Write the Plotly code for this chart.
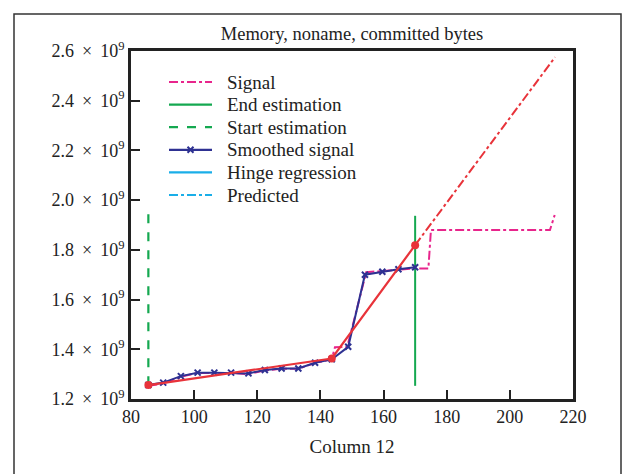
import plotly.graph_objects as go

# Raw signal (committed bytes) against column 12
signal_x = [85.5, 90.2, 95.8, 101.1, 106.4, 111.7, 117.2, 122.4, 127.7, 133.0, 138.3,
            143.6, 144.6, 148.5, 154.5, 159.6, 164.7, 170.0, 174.2, 175.0, 212.7, 214.2]
signal_y = [1.253e9, 1.262e9, 1.290e9, 1.305e9, 1.305e9, 1.305e9, 1.300e9, 1.315e9,
            1.322e9, 1.322e9, 1.345e9, 1.360e9, 1.408e9, 1.410e9, 1.710e9, 1.715e9,
            1.722e9, 1.725e9, 1.725e9, 1.880e9, 1.880e9, 1.940e9]

# Smoothed signal
smooth_x = [85.5, 90.2, 95.8, 101.1, 106.4, 111.7, 117.2, 122.4, 127.7, 133.0, 138.3,
            143.6, 148.8, 154.1, 159.6, 164.7, 170.0]
smooth_y = [1.256e9, 1.266e9, 1.292e9, 1.306e9, 1.306e9, 1.306e9, 1.303e9, 1.317e9,
            1.323e9, 1.323e9, 1.346e9, 1.360e9, 1.410e9, 1.700e9, 1.712e9, 1.722e9,
            1.730e9]

# Start / end estimation markers
start_x = [85.5, 85.5]
start_y = [1.255e9, 1.945e9]
end_x = [170.0, 170.0]
end_y = [1.253e9, 1.937e9]

# Hinge fit and its extrapolation
hinge_x = [85.5, 143.6, 170.0]
hinge_y = [1.256e9, 1.363e9, 1.819e9]
pred_x = [170.0, 214.3]
pred_y = [1.819e9, 2.575e9]

# Axis ticks
x_ticks = [80, 100, 120, 140, 160, 180, 200, 220]
y_ticks = [1.2e9, 1.4e9, 1.6e9, 1.8e9, 2.0e9, 2.2e9, 2.4e9, 2.6e9]
y_mantissas = ["1.2", "1.4", "1.6", "1.8", "2.0", "2.2", "2.4", "2.6"]
y_ticktext = [f"{m} \u2009×\u2009 10<sup>9</sup>" for m in y_mantissas]

# Legend entries
legend_labels = ["Signal", "End estimation", "Start estimation",
                 "Smoothed signal", "Hinge regression", "Predicted"]

MAGENTA = "#e8258c"
GREEN = "#14a850"
BLUE = "#2e3192"
CYAN = "#1aaee8"
RED = "#e8333a"
INK = "#222222"
SERIF = "Liberation Serif"

# colour, dash style, whether a marker is shown
legend_styles = [(MAGENTA, "dashdot", False), (GREEN, "solid", False),
                 (GREEN, "dash", False), (BLUE, "solid", True),
                 (CYAN, "solid", False), (CYAN, "dashdot", False)]

# Plot-area geometry in pixels, used to place the legend and frame in paper units
W, H = 623, 474
L, R, T, B = 131, 50, 51, 75
PW, PH = W - L - R, H - T - B


def px_x(px):
    return (px - L) / PW


def px_y(py):
    return (H - B - py) / PH


fig = go.Figure()

fig.add_trace(go.Scatter(x=signal_x, y=signal_y, mode="lines", name="Signal",
                         line=dict(color=MAGENTA, width=2, dash="dashdot")))
fig.add_trace(go.Scatter(x=end_x, y=end_y, mode="lines", name="End estimation",
                         line=dict(color=GREEN, width=2)))
fig.add_trace(go.Scatter(x=start_x, y=start_y, mode="lines", name="Start estimation",
                         line=dict(color=GREEN, width=2.2, dash="dash")))
fig.add_trace(go.Scatter(x=smooth_x, y=smooth_y, mode="lines+markers", name="Smoothed signal",
                         line=dict(color=BLUE, width=2),
                         marker=dict(symbol="x-thin", size=6, color=BLUE,
                                     line=dict(color=BLUE, width=2))))
fig.add_trace(go.Scatter(x=pred_x, y=pred_y, mode="lines", name="Predicted",
                         line=dict(color=RED, width=2, dash="dashdot")))
fig.add_trace(go.Scatter(x=hinge_x, y=hinge_y, mode="lines+markers", name="Hinge regression",
                         line=dict(color=RED, width=2.2),
                         marker=dict(symbol="circle", size=8, color=RED)))

# Hand-built legend (compact row spacing)
row0, row_gap = 82, 22.6
key_x0, key_x1, text_x = 169, 212, 225
for i, (label, (color, dash, with_marker)) in enumerate(zip(legend_labels, legend_styles)):
    yy = px_y(row0 + i * row_gap)
    fig.add_shape(type="line", xref="paper", yref="paper",
                  x0=px_x(key_x0), x1=px_x(key_x1), y0=yy, y1=yy,
                  line=dict(color=color, width=2.2, dash=dash))
    if with_marker:
        cx, cy, r = (key_x0 + key_x1) / 2, row0 + i * row_gap, 3
        path = (f"M {px_x(cx - r)},{px_y(cy - r)} L {px_x(cx + r)},{px_y(cy + r)} "
                f"M {px_x(cx - r)},{px_y(cy + r)} L {px_x(cx + r)},{px_y(cy - r)}")
        fig.add_shape(type="path", xref="paper", yref="paper", path=path,
                      line=dict(color=color, width=2))
    fig.add_annotation(xref="paper", yref="paper", x=px_x(text_x), y=yy,
                       xanchor="left", yanchor="middle", showarrow=False,
                       text=label, font=dict(family=SERIF, size=19, color=INK))

# Outer frame around the figure
fig.add_shape(type="rect", xref="paper", yref="paper",
              x0=px_x(14), x1=px_x(621), y0=px_y(490), y1=px_y(14),
              line=dict(color="#333333", width=1.5), layer="below")

axis_common = dict(showgrid=False, zeroline=False, showline=True, mirror=True,
                   linecolor=INK, linewidth=2.5, ticks="inside", ticklen=9,
                   tickwidth=2, tickcolor=INK,
                   tickfont=dict(family=SERIF, size=18, color=INK))

fig.update_layout(
    width=W, height=H,
    margin=dict(l=L, r=R, t=T, b=B),
    paper_bgcolor="white", plot_bgcolor="white",
    font=dict(family=SERIF, color=INK),
    showlegend=False,
    title=dict(text="Memory, noname, committed bytes", x=352 / W, xanchor="center",
               y=1 - 34 / H, yanchor="middle",
               font=dict(family=SERIF, size=18.5, color=INK)),
    xaxis=dict(range=[80, 220], tickvals=x_ticks,
               title=dict(text="Column 12", standoff=14,
                          font=dict(family=SERIF, size=19, color=INK)),
               **axis_common),
    yaxis=dict(range=[1.2e9, 2.6e9], tickvals=y_ticks, ticktext=y_ticktext,
               **axis_common),
)

fig.write_html("out.html")
